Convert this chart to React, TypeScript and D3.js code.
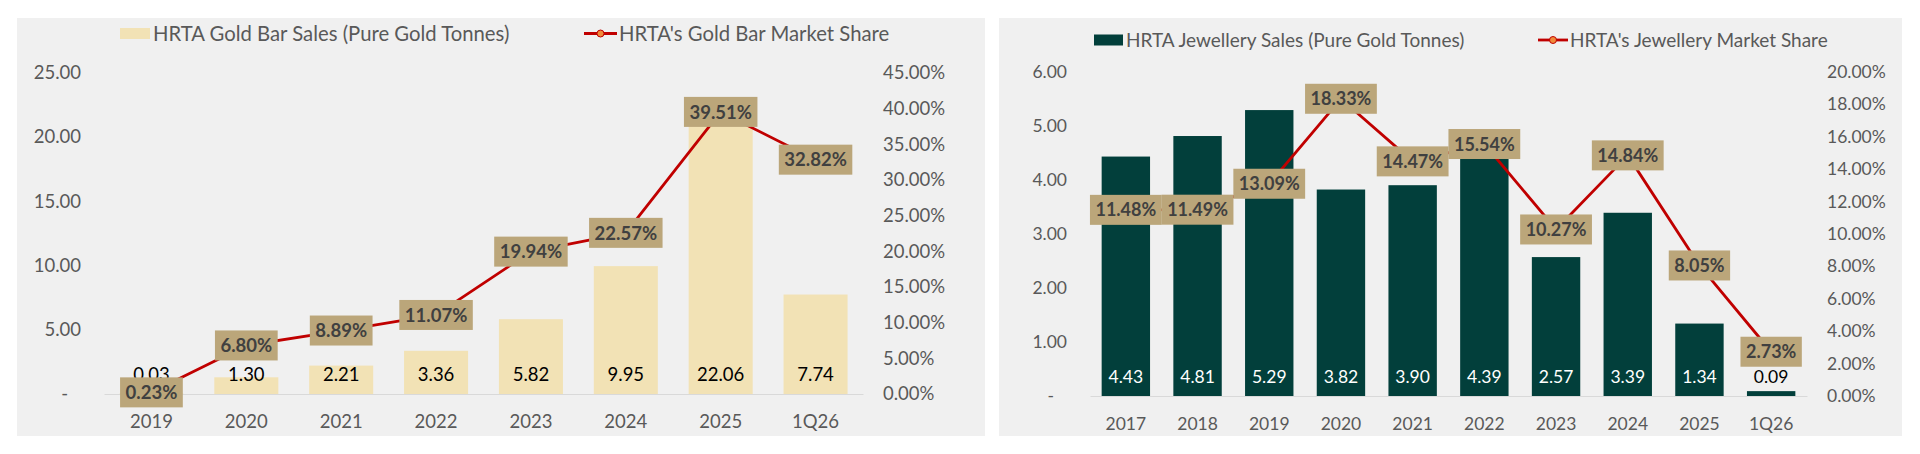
import { useEffect, useRef } from 'react'
import * as d3 from 'd3'

// Gold bar panel (left)
const GOLD_CATEGORIES = ['2019', '2020', '2021', '2022', '2023', '2024', '2025', '1Q26']
const GOLD_BAR_TONNES = [0.03, 1.3, 2.21, 3.36, 5.82, 9.95, 22.06, 7.74]
const GOLD_BAR_SHARE = [0.0023, 0.068, 0.0889, 0.1107, 0.1994, 0.2257, 0.3951, 0.3282]
const GOLD_TONNE_TICKS = [0, 5, 10, 15, 20, 25]
const GOLD_SHARE_TICKS = [0, 0.05, 0.1, 0.15, 0.2, 0.25, 0.3, 0.35, 0.4, 0.45]

// Jewellery panel (right)
const JEWEL_CATEGORIES = ['2017', '2018', '2019', '2020', '2021', '2022', '2023', '2024', '2025', '1Q26']
const JEWEL_TONNES = [4.43, 4.81, 5.29, 3.82, 3.9, 4.39, 2.57, 3.39, 1.34, 0.09]
const JEWEL_SHARE = [0.1148, 0.1149, 0.1309, 0.1833, 0.1447, 0.1554, 0.1027, 0.1484, 0.0805, 0.0273]
const JEWEL_TONNE_TICKS = [0, 1, 2, 3, 4, 5, 6]
const JEWEL_SHARE_TICKS = [0, 0.02, 0.04, 0.06, 0.08, 0.1, 0.12, 0.14, 0.16, 0.18, 0.2]

const FONT = 'Lato, "Open Sans", sans-serif'
const AXIS_TEXT = '#595959'
const LINE_RED = '#C00000'
const LABEL_BOX = '#BBA67A'
const LABEL_TEXT = '#404040'

interface PanelCfg {
  bg: { x: number; y: number; w: number; h: number }
  plot: { left: number; right: number; top: number; zero: number }
  categories: string[]
  tonnes: number[]
  share: number[]
  tonneTicks: number[]
  shareTicks: number[]
  barColor: string
  barLabelColor: string
  barLegend: string
  lineLegend: string
  fontSize: number
  labelSize: number
  legendSize: number
  legend: { y: number; swatchX: number; swatchW: number; textX: number; lineX1: number; lineX2: number; lineTextX: number }
}

const PANELS: PanelCfg[] = [
  {
    bg: { x: 17, y: 18, w: 968, h: 418 },
    plot: { left: 104, right: 863, top: 72.7, zero: 394 },
    categories: GOLD_CATEGORIES,
    tonnes: GOLD_BAR_TONNES,
    share: GOLD_BAR_SHARE,
    tonneTicks: GOLD_TONNE_TICKS,
    shareTicks: GOLD_SHARE_TICKS,
    barColor: '#F2E2B5',
    barLabelColor: '#000',
    barLegend: 'HRTA Gold Bar Sales (Pure Gold Tonnes)',
    lineLegend: "HRTA's Gold Bar Market Share",
    fontSize: 18.5,
    labelSize: 18.5,
    legendSize: 20.3,
    legend: { y: 33.5, swatchX: 120, swatchW: 30, textX: 153, lineX1: 584, lineX2: 617, lineTextX: 619 },
  },
  {
    bg: { x: 999, y: 18, w: 903, h: 418 },
    plot: { left: 1090, right: 1807, top: 71.7, zero: 396 },
    categories: JEWEL_CATEGORIES,
    tonnes: JEWEL_TONNES,
    share: JEWEL_SHARE,
    tonneTicks: JEWEL_TONNE_TICKS,
    shareTicks: JEWEL_SHARE_TICKS,
    barColor: '#023F3B',
    barLabelColor: '#fff',
    barLegend: 'HRTA Jewellery Sales (Pure Gold Tonnes)',
    lineLegend: "HRTA's Jewellery Market Share",
    fontSize: 17.5,
    labelSize: 18,
    legendSize: 19,
    legend: { y: 40, swatchX: 1094, swatchW: 29, textX: 1126, lineX1: 1538, lineX2: 1568, lineTextX: 1570 },
  },
]

function drawPanel(root: d3.Selection<SVGSVGElement, unknown, null, undefined>, cfg: PanelCfg) {
  const { plot } = cfg
  const fs = `${cfg.fontSize}px`
  const g = root.append('g').attr('font-family', FONT)

  g.append('rect')
    .attr('x', cfg.bg.x).attr('y', cfg.bg.y)
    .attr('width', cfg.bg.w).attr('height', cfg.bg.h)
    .attr('fill', '#F0F0F0')

  const x = d3.scaleBand<string>()
    .domain(cfg.categories)
    .range([plot.left, plot.right])
    .paddingInner(0.325)
    .paddingOuter(0.1625)
  const xc = (c: string) => (x(c) ?? 0) + x.bandwidth() / 2

  const tonneMax = cfg.tonneTicks[cfg.tonneTicks.length - 1]
  const shareMax = cfg.shareTicks[cfg.shareTicks.length - 1]
  const yL = d3.scaleLinear().domain([0, tonneMax]).range([plot.zero, plot.top])
  const yR = d3.scaleLinear().domain([0, shareMax]).range([plot.zero, plot.top])

  // Left axis (accounting style: zero shows as a dash)
  g.append('g')
    .attr('transform', `translate(${plot.left - 23},0)`)
    .call(d3.axisLeft(yL).tickValues(cfg.tonneTicks).tickSize(0).tickPadding(0)
      .tickFormat(v => (+v === 0 ? '-' : d3.format('.2f')(+v))))
    .call(ax => {
      ax.select('.domain').remove()
      ax.selectAll<SVGTextElement, number>('text')
        .attr('fill', AXIS_TEXT).attr('font-size', fs).attr('font-family', FONT)
        .attr('dx', d => (d === 0 ? -13 : 0))
    })

  // Right axis
  g.append('g')
    .attr('transform', `translate(${plot.right + 20},0)`)
    .call(d3.axisRight(yR).tickValues(cfg.shareTicks).tickSize(0).tickPadding(0)
      .tickFormat(v => d3.format('.2%')(+v)))
    .call(ax => {
      ax.select('.domain').remove()
      ax.selectAll('text').attr('fill', AXIS_TEXT).attr('font-size', fs).attr('font-family', FONT)
    })

  // Category axis
  g.append('g')
    .attr('transform', `translate(0,${plot.zero})`)
    .call(d3.axisBottom(x).tickSize(0).tickSizeOuter(0))
    .call(ax => {
      ax.select('.domain').attr('stroke', '#D9D9D9').attr('stroke-width', 1.2)
      ax.selectAll('text')
        .attr('fill', AXIS_TEXT).attr('font-size', fs).attr('font-family', FONT)
        .attr('y', 27.5).attr('dy', '0.35em')
    })

  // Bars
  g.append('g').selectAll('rect')
    .data(cfg.tonnes)
    .join('rect')
    .attr('x', (_, i) => x(cfg.categories[i]) ?? 0)
    .attr('y', d => yL(d))
    .attr('width', x.bandwidth())
    .attr('height', d => plot.zero - yL(d))
    .attr('fill', cfg.barColor)

  // Share line
  const line = d3.line<number>()
    .x((_, i) => xc(cfg.categories[i]))
    .y(d => yR(d))
  g.append('path')
    .attr('d', line(cfg.share) ?? '')
    .attr('fill', 'none')
    .attr('stroke', LINE_RED)
    .attr('stroke-width', 2.8)
    .attr('stroke-linejoin', 'round')

  g.append('g').selectAll('circle')
    .data(cfg.share)
    .join('circle')
    .attr('cx', (_, i) => xc(cfg.categories[i]))
    .attr('cy', d => yR(d))
    .attr('r', 3.5)
    .attr('fill', '#F08A3A')
    .attr('stroke', LINE_RED)

  // Bar value labels (inside base)
  g.append('g').selectAll('text')
    .data(cfg.tonnes)
    .join('text')
    .attr('x', (_, i) => xc(cfg.categories[i]))
    .attr('y', plot.zero - 19)
    .attr('dy', '0.35em')
    .attr('text-anchor', 'middle')
    .attr('font-size', fs)
    .attr('fill', d => (plot.zero - yL(d) > 24 ? cfg.barLabelColor : '#000'))
    .text(d => d3.format('.2f')(d))

  // Share labels in tan boxes
  cfg.share.forEach((v, i) => {
    const lg = g.append('g')
      .attr('transform', `translate(${xc(cfg.categories[i])},${yR(v)})`)
    const rect = lg.append('rect').attr('fill', LABEL_BOX)
    const t = lg.append('text')
      .attr('text-anchor', 'middle')
      .attr('dy', '0.36em')
      .attr('font-size', `${cfg.labelSize}px`)
      .attr('font-weight', 700)
      .attr('fill', LABEL_TEXT)
      .text(d3.format('.2%')(v))
    const w = (t.node() as SVGTextElement).getComputedTextLength() + 11
    rect.attr('x', -w / 2).attr('y', -15).attr('width', w).attr('height', 30)
  })

  // Legend
  const L = cfg.legend
  const ls = `${cfg.legendSize}px`
  g.append('rect')
    .attr('x', L.swatchX).attr('y', L.y - 5.5)
    .attr('width', L.swatchW).attr('height', 11)
    .attr('fill', cfg.barColor)
  g.append('text')
    .attr('x', L.textX).attr('y', L.y).attr('dy', '0.35em')
    .attr('font-size', ls).attr('fill', AXIS_TEXT)
    .text(cfg.barLegend)
  g.append('line')
    .attr('x1', L.lineX1).attr('x2', L.lineX2)
    .attr('y1', L.y).attr('y2', L.y)
    .attr('stroke', LINE_RED).attr('stroke-width', 2.8)
  g.append('circle')
    .attr('cx', (L.lineX1 + L.lineX2) / 2).attr('cy', L.y)
    .attr('r', 3.5).attr('fill', '#F08A3A').attr('stroke', LINE_RED)
  g.append('text')
    .attr('x', L.lineTextX).attr('y', L.y).attr('dy', '0.35em')
    .attr('font-size', ls).attr('fill', AXIS_TEXT)
    .text(cfg.lineLegend)
}

export default function App() {
  const svgRef = useRef<SVGSVGElement>(null)

  useEffect(() => {
    const svg = svgRef.current
    if (!svg) return
    const root = d3.select(svg)
    root.selectAll('*').remove()
    root.append('rect').attr('width', 1920).attr('height', 454).attr('fill', '#fff')
    PANELS.forEach(p => drawPanel(root, p))
  }, [])

  return (
    <svg
      ref={svgRef}
      width={1920}
      height={454}
      style={{ position: 'absolute', left: 0, top: 0, display: 'block' }}
    />
  )
}
